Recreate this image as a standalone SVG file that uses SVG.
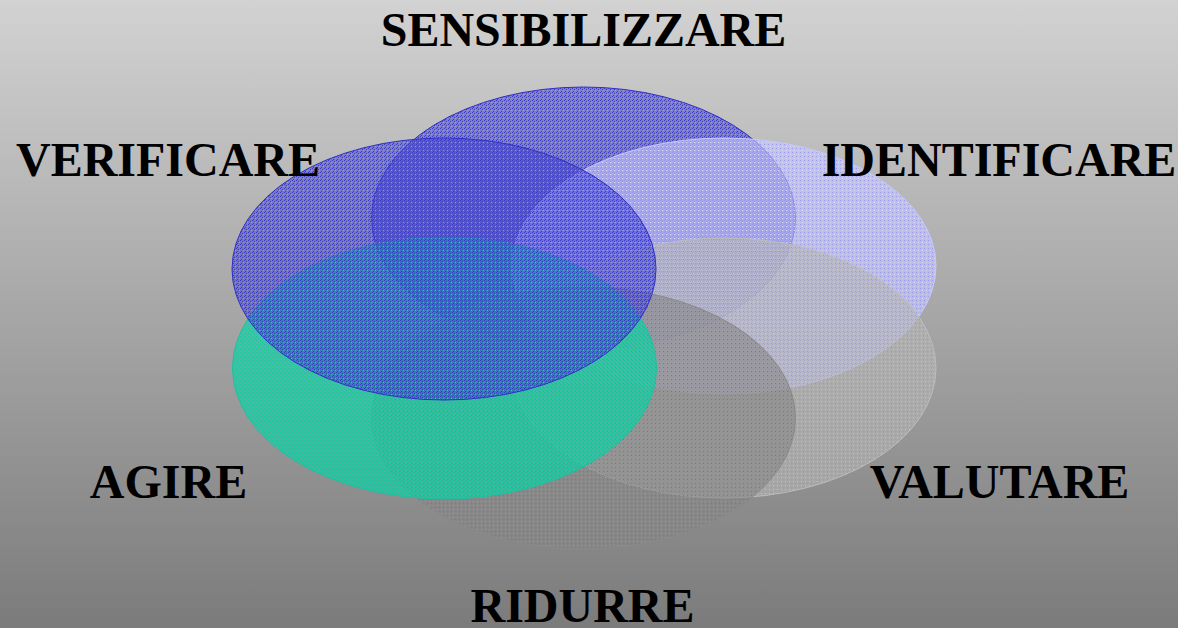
<svg xmlns="http://www.w3.org/2000/svg" width="1178" height="628" viewBox="0 0 1178 628">
<defs>
<linearGradient id="bg" x1="0" y1="0" x2="0" y2="1">
<stop offset="0" stop-color="#d2d2d2"/>
<stop offset="1" stop-color="#7b7b7b"/>
</linearGradient>
<pattern id="pBlue" width="4" height="4" patternUnits="userSpaceOnUse">
<rect width="4" height="4" fill="#3a3ad0" fill-opacity="0.5"/>
<rect x="0" y="0" width="1" height="1" fill="#3a3ad0"/>
<rect x="2" y="1" width="1" height="1" fill="#3a3ad0"/>
<rect x="1" y="3" width="1" height="1" fill="#3a3ad0"/>
<rect x="3" y="2" width="1" height="1" fill="#bcbcbc" fill-opacity="0.5"/>
</pattern>
<pattern id="pLav" width="4" height="4" patternUnits="userSpaceOnUse">
<rect width="4" height="4" fill="#c8c8ff" fill-opacity="0.6"/>
<rect x="0" y="0" width="1" height="1" fill="#9a9af0"/>
<rect x="2" y="2" width="1" height="1" fill="#d8d8ff"/>
</pattern>
<pattern id="pGrayL" width="4" height="4" patternUnits="userSpaceOnUse">
<rect width="4" height="4" fill="#b6b6b6" fill-opacity="0.6"/>
<rect x="1" y="1" width="1" height="1" fill="#c4c4c4"/>
<rect x="3" y="3" width="1" height="1" fill="#a0a0a0"/>
</pattern>
<pattern id="pGrayD" width="4" height="4" patternUnits="userSpaceOnUse">
<rect width="4" height="4" fill="#858585" fill-opacity="0.6"/>
<rect x="1" y="1" width="1" height="1" fill="#999999"/>
<rect x="3" y="3" width="1" height="1" fill="#7a7a7a"/>
</pattern>
<pattern id="pGreen" width="4" height="4" patternUnits="userSpaceOnUse">
<rect width="4" height="4" fill="#18c8a0" fill-opacity="0.6"/>
<rect x="0" y="0" width="1" height="1" fill="#18c8a0"/>
<rect x="2" y="2" width="1" height="1" fill="#18c8a0"/>
<rect x="1" y="3" width="1" height="1" fill="#a0a0a0" fill-opacity="0.6"/>
<rect x="3" y="1" width="1" height="1" fill="#a0a0a0" fill-opacity="0.4"/>
</pattern>
</defs>
<style>
.lbl{font-family:"Liberation Serif","Times New Roman",serif;font-weight:bold;font-size:48px;fill:#000;text-anchor:middle}
.e{stroke-width:1}
</style>
<rect width="1178" height="628" fill="url(#bg)"/>
<g id="sensibilizzare-ellipse"><ellipse class="e" cx="583.5" cy="218" rx="212" ry="131" fill="url(#pBlue)" stroke="#3030c8"/></g>
<g id="identificare-ellipse"><ellipse class="e" cx="724" cy="266" rx="212" ry="128" fill="url(#pLav)" stroke="#c8c8ff"/></g>
<g id="valutare-ellipse"><ellipse class="e" cx="724" cy="368" rx="212" ry="130" fill="url(#pGrayL)" stroke="#bdbdbd"/></g>
<g id="ridurre-ellipse"><ellipse class="e" cx="583.5" cy="418" rx="212" ry="131" fill="url(#pGrayD)" stroke="#8a8a8a"/></g>
<g id="agire-ellipse"><ellipse class="e" cx="444.5" cy="368" rx="212" ry="131" fill="url(#pGreen)" stroke="#20c0a0"/></g>
<g id="verificare-ellipse"><ellipse class="e" cx="444" cy="269" rx="212" ry="131" fill="url(#pBlue)" stroke="#3030c8"/></g>
<g id="labels">
<text class="lbl" x="583.5" y="46">SENSIBILIZZARE</text>
<text class="lbl" x="168" y="176">VERIFICARE</text>
<text class="lbl" x="999" y="176">IDENTIFICARE</text>
<text class="lbl" x="168.5" y="498">AGIRE</text>
<text class="lbl" x="999.5" y="498">VALUTARE</text>
<text class="lbl" x="582.5" y="622">RIDURRE</text>
</g>
</svg>
